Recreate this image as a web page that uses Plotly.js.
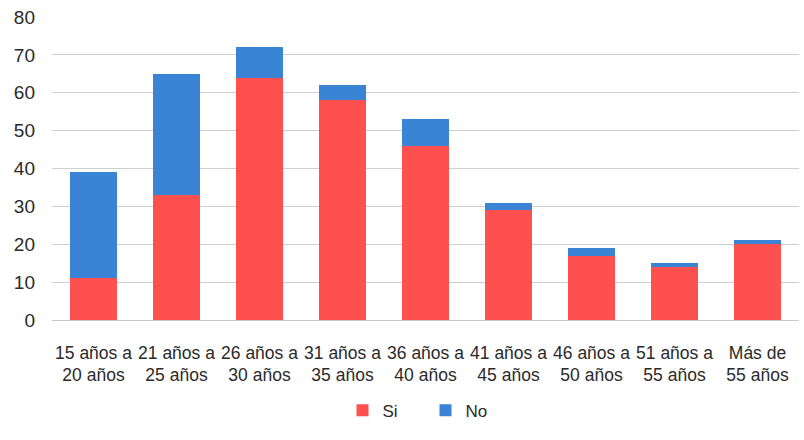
<!DOCTYPE html>
<html>
<head>
<meta charset="utf-8">
<script src="https://cdn.plot.ly/plotly-3.0.1.min.js"></script>
<style>html,body{margin:0;padding:0;background:#fff;}#chart{width:804px;height:440px;}</style>
</head>
<body>
<div id="chart"></div>
<script>
const categories = ["15 años a<br>20 años","21 años a<br>25 años","26 años a<br>30 años","31 años a<br>35 años","36 años a<br>40 años","41 años a<br>45 años","46 años a<br>50 años","51 años a<br>55 años","Más de<br>55 años"];
const siValues = [11, 33, 64, 58, 46, 29, 17, 14, 20];
const noValues = [28, 32, 8, 4, 7, 2, 2, 1, 1];
const yTicks = [0, 10, 20, 30, 40, 50, 60, 70, 80];

const font = "'Liberation Sans', Arial, sans-serif";
const data = [
  {type: 'bar', name: 'Si', x: categories, y: siValues, marker: {color: '#FF5050'}},
  {type: 'bar', name: 'No', x: categories, y: noValues, marker: {color: '#3A84D6'}}
];
const layout = {
  width: 804, height: 440,
  barmode: 'stack',
  bargap: 0.43,
  margin: {l: 52, r: 5, t: 17, b: 120},
  paper_bgcolor: '#fff', plot_bgcolor: '#fff',
  font: {family: font, size: 17, color: '#333'},
  xaxis: {tickfont: {size: 17.5, color: '#2a2a2a'}, showline: false, ticks: '', ticklabelstandoff: 20, automargin: false},
  yaxis: {range: [0, 80], tickvals: yTicks, ticktext: yTicks.map(String), gridcolor: '#CFCFCF', zeroline: true, zerolinecolor: '#C8C8C8', ticks: '', ticklen: 0, ticklabelstandoff: 16, tickfont: {size: 19, color: '#2a2a2a'}, automargin: false},
  legend: {orientation: 'h', x: 0.5, xanchor: 'center', y: -0.24, yanchor: 'top', font: {size: 17, color: '#2a2a2a'}, traceorder: 'normal', entrywidth: 38},
  showlegend: true
};
Plotly.newPlot('chart', data, layout, {displayModeBar: false, staticPlot: true});
</script>
</body>
</html>
